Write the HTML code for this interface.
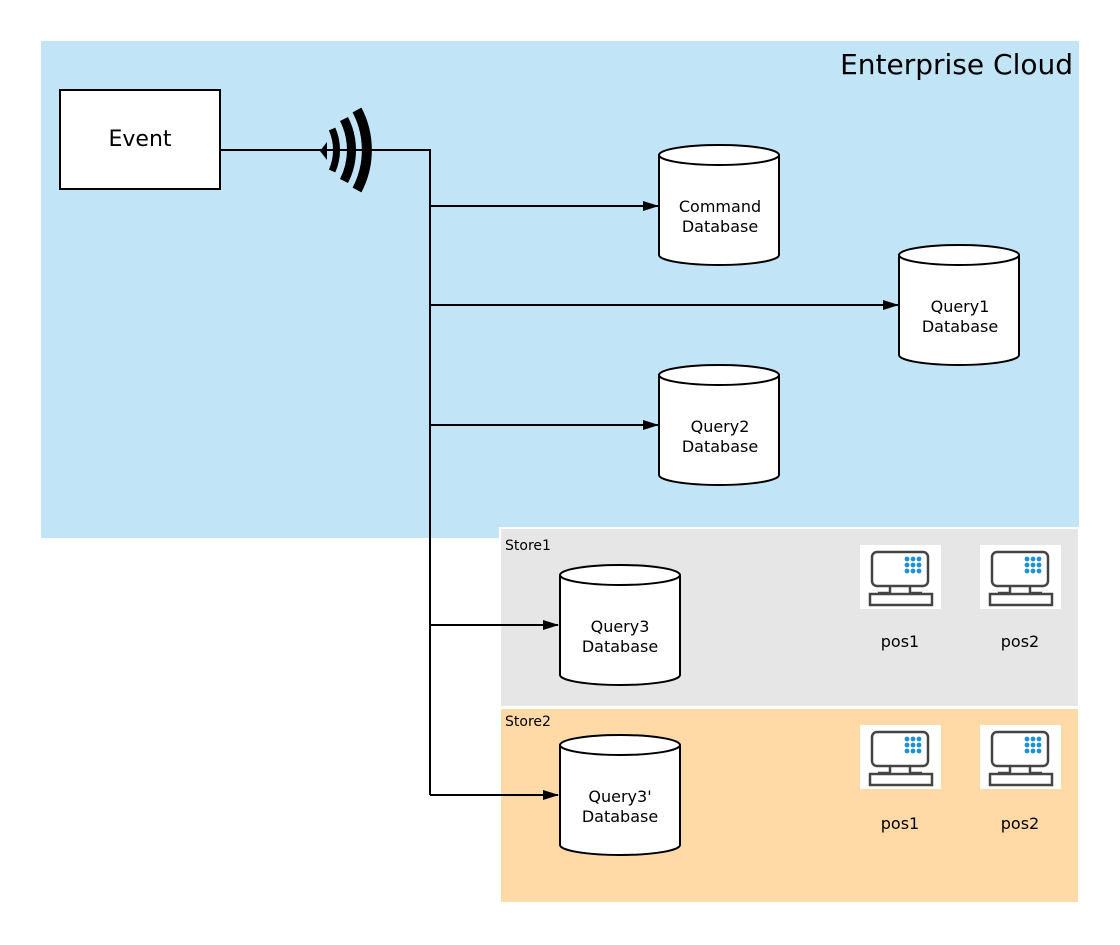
<!DOCTYPE html>
<html><head><style>body{margin:0;background:#fff}svg{display:block}text{font-family:"DejaVu Sans","Liberation Sans",sans-serif}</style></head><body>
<svg width="1120" height="945" viewBox="0 0 1120 945" xmlns="http://www.w3.org/2000/svg">
<defs>
<marker id="a" markerWidth="16" markerHeight="12" refX="15" refY="6" orient="auto" markerUnits="userSpaceOnUse"><path d="M0,1 L16,6 L0,11 Z" fill="#000"/></marker>
<g id="cyl"><path d="M0,10 A60,10 0 0 1 120,10 L120,110 A60,10 0 0 1 0,110 Z" fill="#fff" stroke="#000" stroke-width="2"/><path d="M0,10 A60,10 0 0 0 120,10" fill="none" stroke="#000" stroke-width="2"/></g>
<g id="pos"><rect x="0" y="0" width="81" height="64" fill="#fff"/>
<rect x="12" y="7" width="56" height="34" rx="5" fill="#fff" stroke="#444" stroke-width="2.5"/>
<path d="M30,41 v7 h-12 M50,41 v7 h12" fill="none" stroke="#444" stroke-width="2.5"/>
<rect x="10" y="49" width="62" height="11" fill="#fff" stroke="#444" stroke-width="2.5"/>
<g fill="#1e90d6"><circle cx="47" cy="14" r="2.4"/><circle cx="53" cy="14" r="2.4"/><circle cx="59" cy="14" r="2.4"/><circle cx="47" cy="20" r="2.4"/><circle cx="53" cy="20" r="2.4"/><circle cx="59" cy="20" r="2.4"/><circle cx="47" cy="26" r="2.4"/><circle cx="53" cy="26" r="2.4"/><circle cx="59" cy="26" r="2.4"/></g></g>
</defs>
<rect x="41" y="41" width="1038" height="497" fill="#c1e4f7"/>
<text x="1073" y="74" font-size="28" text-anchor="end" fill="#000">Enterprise Cloud</text>
<rect x="500" y="528" width="579" height="179" fill="#e6e6e6" stroke="#fff" stroke-width="2"/>
<rect x="500" y="708" width="579" height="195" fill="#ffd9a6" stroke="#fff" stroke-width="2"/>
<text x="505" y="550" font-size="14">Store1</text>
<text x="505" y="726" font-size="14">Store2</text>
<rect x="60" y="90" width="160" height="99" fill="#fff" stroke="#000" stroke-width="2"/>
<text x="140" y="146" font-size="22" text-anchor="middle">Event</text>
<path d="M220,150 H430 V795" fill="none" stroke="#000" stroke-width="2"/>
<g fill="none" stroke="#000" stroke-width="2">
<path d="M430,206 H658" marker-end="url(#a)"/>
<path d="M430,305 H898" marker-end="url(#a)"/>
<path d="M430,425 H658" marker-end="url(#a)"/>
<path d="M430,625 H558" marker-end="url(#a)"/>
<path d="M430,795 H558" marker-end="url(#a)"/>
</g>
<g fill="none" stroke="#000">
<path d="M332.1,129 A52,52 0 0 1 332.1,171" stroke-width="7"/>
<path d="M344,119 A68,68 0 0 1 344,181" stroke-width="9"/>
<path d="M357,110 A86,86 0 0 1 357,190" stroke-width="10"/>
</g>
<path d="M327,142 L320,151 L327,160 Z" fill="#000"/>
<use href="#cyl" x="659" y="145"/>
<text x="720" y="212" font-size="16" text-anchor="middle">Command</text><text x="720" y="232" font-size="16" text-anchor="middle">Database</text>
<use href="#cyl" x="899" y="245"/>
<text x="960" y="312" font-size="16" text-anchor="middle">Query1</text><text x="960" y="332" font-size="16" text-anchor="middle">Database</text>
<use href="#cyl" x="659" y="365"/>
<text x="720" y="432" font-size="16" text-anchor="middle">Query2</text><text x="720" y="452" font-size="16" text-anchor="middle">Database</text>
<use href="#cyl" x="560" y="565"/>
<text x="620" y="632" font-size="16" text-anchor="middle">Query3</text><text x="620" y="652" font-size="16" text-anchor="middle">Database</text>
<use href="#cyl" x="560" y="735"/>
<text x="620" y="802" font-size="16" text-anchor="middle">Query3'</text><text x="620" y="822" font-size="16" text-anchor="middle">Database</text>
<use href="#pos" x="860" y="545"/><use href="#pos" x="980" y="545"/>
<use href="#pos" x="860" y="725"/><use href="#pos" x="980" y="725"/>
<g font-size="16" text-anchor="middle"><text x="900" y="647">pos1</text><text x="1020" y="647">pos2</text><text x="900" y="829">pos1</text><text x="1020" y="829">pos2</text></g>
</svg>
</body></html>
